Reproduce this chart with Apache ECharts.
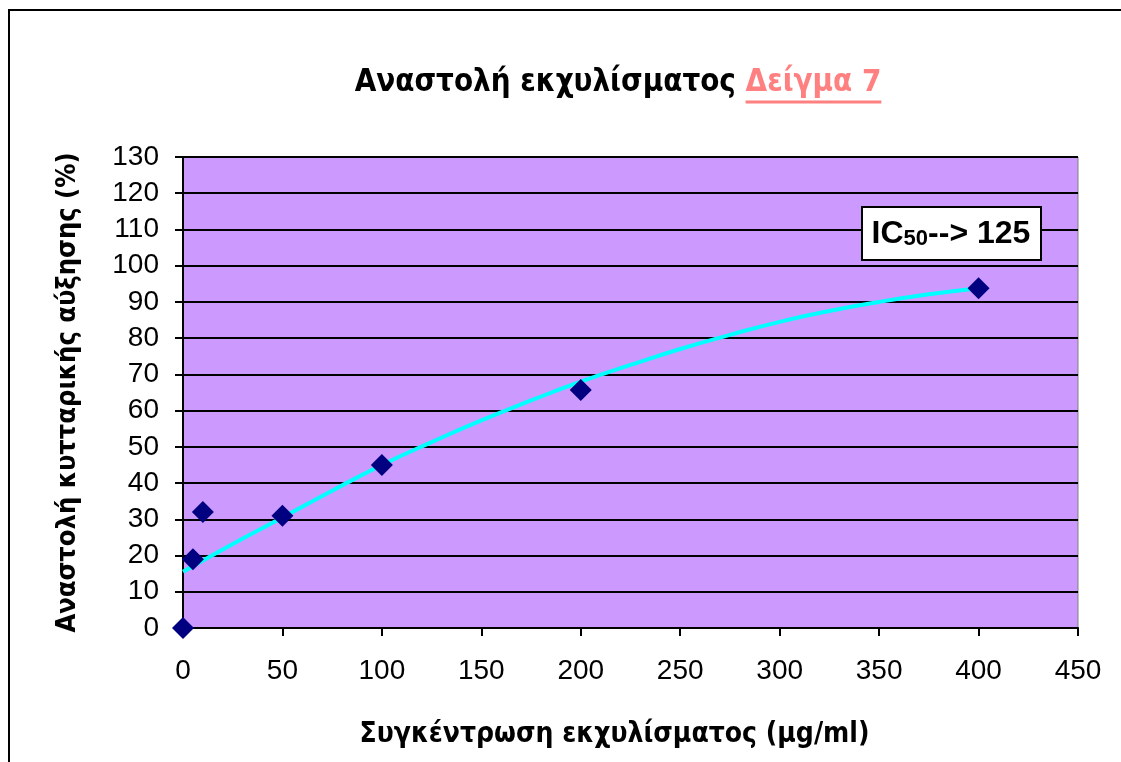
<!DOCTYPE html>
<html>
<head>
<meta charset="utf-8">
<script src="https://cdn.jsdelivr.net/npm/echarts@6/dist/echarts.min.js"></script>
<style>html,body{margin:0;padding:0;background:#fff;}#c{width:1121px;height:762px;}</style>
</head>
<body>
<div id="c"></div>
<script>
// Measured points (concentration µg/ml, inhibition %)
var concentrations = [0, 5, 10, 50, 100, 200, 400];
var inhibition = [0, 19, 32, 31, 45, 65.7, 93.8];
// Trend line
var trendX = [0, 25, 50, 75, 100, 125, 150, 175, 200, 225, 250, 275, 300, 325, 350, 375, 400];
var trendY = [15.5, 23.2, 30.5, 37.9, 45, 51.3, 57.3, 62.8, 68, 72.6, 77, 80.9, 84.5, 87.5, 90, 92.1, 93.8];
var titleMain = 'Αναστολή εκχυλίσματος';
var titleSample = 'Δείγμα 7';
var xName = 'Συγκέντρωση εκχυλίσματος (µg/ml)';
var yName = 'Αναστολή κυτταρικής αύξησης (%)';
var annotation = ['IC', '50', '--> 125'];

var chart = echarts.init(document.getElementById('c'), null, {renderer: 'canvas'});
var scatterData = concentrations.map(function (x, i) { return [x, inhibition[i]]; });
var trendData = trendX.map(function (x, i) { return [x, trendY[i]]; });
var titleFont = '"DejaVu Sans Condensed", "DejaVu Sans", sans-serif';
var tickFont = '"Liberation Sans", Arial, sans-serif';
var titleSize = 31;

// measure title pieces to place the underline under the coloured part
var ctx = document.createElement('canvas').getContext('2d');
ctx.font = 'bold ' + titleSize + 'px ' + titleFont;
var wMain = ctx.measureText(titleMain + ' ').width;
var wSample = ctx.measureText(titleSample).width;
var titleCenter = 618;
var titleLeft = titleCenter - (wMain + wSample) / 2;

chart.setOption({
  animation: false,
  backgroundColor: '#ffffff',
  title: {
    text: '{a|' + titleMain + ' }{b|' + titleSample + '}',
    left: titleLeft,
    top: 67,
    padding: 0,
    textStyle: {
      rich: {
        a: {fontFamily: titleFont, fontWeight: 'bold', fontSize: titleSize, color: '#000000'},
        b: {fontFamily: titleFont, fontWeight: 'bold', fontSize: titleSize, color: '#FF8080'}
      }
    }
  },
  grid: {left: 183, top: 157, right: 43, bottom: 134, show: true, backgroundColor: '#CC99FF', borderColor: '#808080', borderWidth: 1},
  xAxis: {
    type: 'value', min: 0, max: 450, interval: 50,
    name: xName, nameLocation: 'middle', nameGap: 93,
    nameTextStyle: {fontFamily: titleFont, fontWeight: 'bold', fontSize: 28, color: '#000', padding: [0, 32, 0, 0]},
    axisLine: {show: true, onZero: false, lineStyle: {color: '#000', width: 2}},
    axisTick: {show: true, length: 8, lineStyle: {color: '#000', width: 2}},
    axisLabel: {fontFamily: tickFont, fontSize: 28, color: '#000', margin: 29},
    splitLine: {show: false}
  },
  yAxis: {
    type: 'value', min: 0, max: 130, interval: 10,
    name: yName, nameLocation: 'middle', nameGap: 102, nameRotate: 90,
    nameTextStyle: {fontFamily: titleFont, fontWeight: 'bold', fontSize: 27, color: '#000'},
    axisLine: {show: true, onZero: false, lineStyle: {color: '#000', width: 2}},
    axisTick: {show: true, length: 8, lineStyle: {color: '#000', width: 2}},
    axisLabel: {fontFamily: tickFont, fontSize: 28, color: '#000', margin: 24},
    splitLine: {show: true, lineStyle: {color: '#000', width: 2}}
  },
  series: [
    {
      type: 'line', data: trendData, smooth: true, showSymbol: false, symbol: 'none',
      lineStyle: {color: '#00FFFF', width: 4}, z: 3
    },
    {
      type: 'scatter', data: scatterData, symbol: 'diamond', symbolSize: 22,
      itemStyle: {color: '#000080', opacity: 1}, z: 4
    }
  ],
  graphic: [
    {type: 'rect', shape: {x: 9, y: 10, width: 1200, height: 800}, style: {fill: 'none', stroke: '#000', lineWidth: 2}, silent: true, z: 100},
    {type: 'line', shape: {x1: titleLeft + wMain, y1: 102, x2: titleLeft + wMain + wSample, y2: 102}, style: {stroke: '#FF8080', lineWidth: 3}, z: 100},
    {
      type: 'rect', shape: {x: 862, y: 207, width: 179, height: 53},
      style: {fill: '#ffffff', stroke: '#000', lineWidth: 2}, z: 100
    },
    {
      type: 'text', x: 951, y: 234, z: 101,
      style: {
        text: '{a|' + annotation[0] + '}{s|' + annotation[1] + '}{a|' + annotation[2] + '}',
        align: 'center', verticalAlign: 'middle',
        rich: {
          a: {fontFamily: tickFont, fontWeight: 'bold', fontSize: 32, fill: '#000', color: '#000'},
          s: {fontFamily: tickFont, fontWeight: 'bold', fontSize: 22, fill: '#000', color: '#000', padding: [10, 0, 0, 0]}
        }
      }
    }
  ]
});
</script>
</body>
</html>
